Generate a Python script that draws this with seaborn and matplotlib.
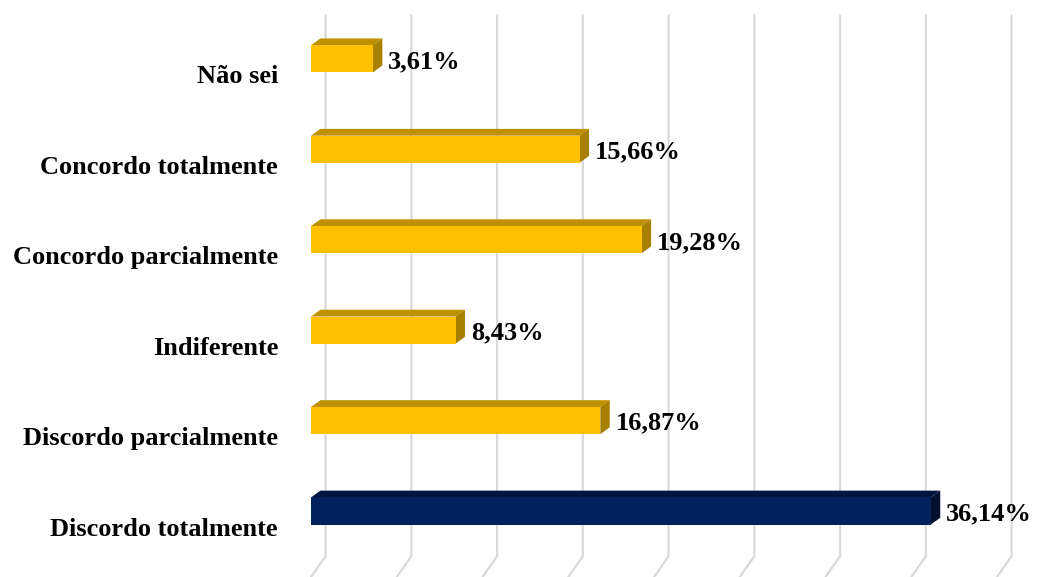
import numpy as np
import pandas as pd
import seaborn as sns
import matplotlib.pyplot as plt
from matplotlib.patches import Polygon
from matplotlib.transforms import blended_transform_factory

# data, top to bottom as in the chart
categories = ["Não sei", "Concordo totalmente", "Concordo parcialmente",
              "Indiferente", "Discordo parcialmente", "Discordo totalmente"]
values = [3.61, 15.66, 19.28, 8.43, 16.87, 36.14]
value_labels = ["3,61%", "15,66%", "19,28%", "8,43%", "16,87%", "36,14%"]
grid_ticks = [0, 5, 10, 15, 20, 25, 30, 35, 40]

df = pd.DataFrame({"cat": categories, "val": values})

yellow = ["#FFC000", "#BF9000", "#A88000"]   # front, top, side
navy = ["#002060", "#001540", "#00102F"]
colors = [navy if c == "Discordo totalmente" else yellow for c in categories]

sns.set_style("white")
plt.rcParams["font.family"] = ["Liberation Serif", "DejaVu Serif"]

fig = plt.figure(figsize=(10.39, 5.77), dpi=100)
ax = fig.add_axes([311 / 1039, 0, 728 / 1039, 1])

bar_w = 0.30      # front face height (category units)
dx, dy = 0.55, 0.075   # 3D depth offset
grid_dx = 0.85

sns.barplot(data=df, x="val", y="cat", hue="cat", palette=[c[0] for c in colors],
            width=bar_w, legend=False, ax=ax, zorder=3, saturation=1,
            linewidth=0, edgecolor="none")

ax.set_xlim(0, 728 / 17.15)
ax.set_ylim(5.73, -0.65)

# back-wall gridlines with slanted floor part
y_top, y_back, y_floor = -0.48, 5.5, 5.73
for t in grid_ticks:
    ax.plot([t + grid_dx, t + grid_dx, t + grid_dx - 0.85], [y_top, y_back, y_floor],
            color="#d9d9d9", lw=1.6, zorder=1, clip_on=False)

# top and side faces of the bars
for i, (v, c) in enumerate(zip(values, colors)):
    y0 = i - bar_w / 2
    y1 = i + bar_w / 2
    top = Polygon([(0, y0), (v, y0), (v + dx, y0 - dy), (dx, y0 - dy)],
                  closed=True, facecolor=c[1], edgecolor="none", zorder=2)
    side = Polygon([(v, y0), (v + dx, y0 - dy), (v + dx, y1 - dy), (v, y1)],
                   closed=True, facecolor=c[2], edgecolor="none", zorder=2)
    ax.add_patch(top)
    ax.add_patch(side)
    ax.text(v + dx + 0.35, i + 0.03, value_labels[i], ha="left", va="center",
            fontsize=19, fontweight="bold", color="black", zorder=4)

# category labels
trans = blended_transform_factory(fig.transFigure, ax.transData)
for i, cat in enumerate(categories):
    ax.text(278 / 1039, i + 0.2, cat, transform=trans, ha="right", va="center",
            fontsize=19, fontweight="bold", color="black", clip_on=False)

ax.set_xlabel("")
ax.set_ylabel("")
ax.set_xticks([])
ax.set_yticks([])
sns.despine(ax=ax, left=True, bottom=True)

fig.savefig("out.png", dpi=100)
